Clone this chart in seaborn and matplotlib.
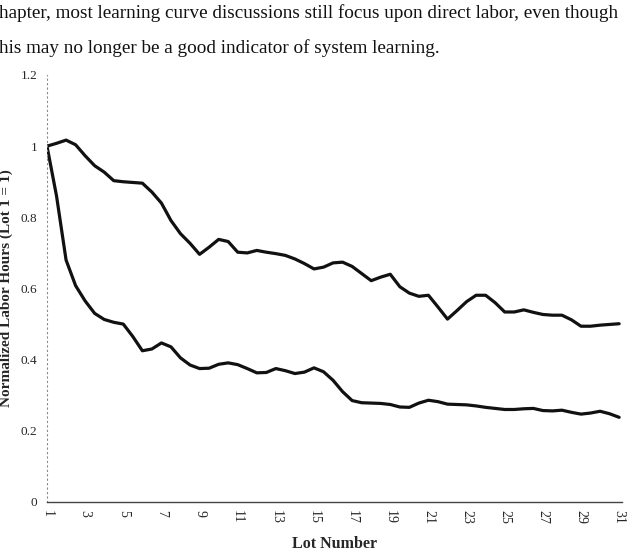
import matplotlib
matplotlib.use("Agg")
import matplotlib.pyplot as plt
from matplotlib.ticker import FuncFormatter, FixedLocator, MultipleLocator
import numpy as np
import pandas as pd
import seaborn as sns

# -------- Data (half-lot resolution) --------
lots = [1, 1.5, 2, 2.5, 3, 3.5, 4, 4.5, 5, 5.5, 6, 6.5, 7, 7.5, 8, 8.5, 9, 9.5,
        10, 10.5, 11, 11.5, 12, 12.5, 13, 13.5, 14, 14.5, 15, 15.5, 16, 16.5,
        17, 17.5, 18, 18.5, 19, 19.5, 20, 20.5, 21, 21.5, 22, 22.5, 23, 23.5,
        24, 24.5, 25, 25.5, 26, 26.5, 27, 27.5, 28, 28.5, 29, 29.5, 30, 30.5, 31]

upper = [1.000, 1.008, 1.017, 1.004, 0.973, 0.945, 0.927, 0.903, 0.900, 0.898,
         0.896, 0.871, 0.840, 0.791, 0.754, 0.727, 0.696, 0.716, 0.738, 0.732,
         0.702, 0.700, 0.707, 0.702, 0.698, 0.693, 0.683, 0.670, 0.655, 0.660,
         0.672, 0.674, 0.662, 0.642, 0.622, 0.632, 0.640, 0.605, 0.587, 0.578,
         0.581, 0.548, 0.514, 0.538, 0.563, 0.581, 0.581, 0.560, 0.534, 0.534,
         0.540, 0.533, 0.527, 0.525, 0.525, 0.512, 0.494, 0.494, 0.497, 0.499,
         0.501]

lower = [1.000, 0.860, 0.680, 0.608, 0.565, 0.530, 0.513, 0.505, 0.500, 0.465,
         0.425, 0.430, 0.447, 0.436, 0.405, 0.385, 0.375, 0.376, 0.387, 0.391,
         0.386, 0.375, 0.363, 0.364, 0.375, 0.369, 0.361, 0.365, 0.377, 0.366,
         0.342, 0.310, 0.285, 0.279, 0.278, 0.277, 0.274, 0.267, 0.266, 0.278,
         0.286, 0.282, 0.275, 0.274, 0.273, 0.270, 0.266, 0.263, 0.260, 0.260,
         0.262, 0.263, 0.257, 0.256, 0.258, 0.252, 0.247, 0.250, 0.255, 0.248,
         0.238]

series_names = ["upper", "lower"]
labelled_lots = list(range(1, 32, 2))

intro_line1 = "hapter, most learning curve discussions still focus upon direct labor, even though"
intro_line2 = "his may no longer be a good indicator of system learning."

df = pd.concat([
    pd.DataFrame({"lot": lots, "hours": upper, "series": series_names[0]}),
    pd.DataFrame({"lot": lots, "hours": lower, "series": series_names[1]}),
], ignore_index=True)

sns.set_style("white")
plt.rcParams["font.family"] = ["Liberation Serif", "DejaVu Serif"]

fig = plt.figure(figsize=(6.34, 5.58), dpi=100)
ax = fig.add_axes([47 / 634, 1 - 502 / 558, 575 / 634, 427 / 558])

sns.lineplot(data=df, x="lot", y="hours", hue="series",
             palette={"upper": "#111111", "lower": "#111111"},
             estimator=None, sort=False, linewidth=2.3, legend=False, ax=ax)

ax.set_xlim(1, 31.15)
ax.set_ylim(0, 1.2)
ax.xaxis.set_major_locator(FixedLocator(labelled_lots))
ax.xaxis.set_minor_locator(MultipleLocator(1))
ax.yaxis.set_major_locator(MultipleLocator(0.2))
ax.yaxis.set_major_formatter(FuncFormatter(lambda v, p: f"{v:g}"))
ax.xaxis.set_major_formatter(FuncFormatter(lambda v, p: f"{int(round(v))}"))

ax.tick_params(axis="x", which="both", direction="inout", length=5, width=0.8,
               color="#555555", labelsize=10, labelrotation=-90, pad=3)
ax.tick_params(axis="y", which="major", direction="inout", length=6, width=0.8,
               color="#555555", labelsize=9.5, pad=4)
ax.tick_params(axis="x", which="minor", length=4)

for s in ("top", "right"):
    ax.spines[s].set_visible(False)
ax.spines["left"].set_linestyle((0, (1, 3)))
ax.spines["left"].set_color("#888888")
ax.spines["left"].set_linewidth(0.8)
ax.spines["bottom"].set_color("#444444")
ax.spines["bottom"].set_linewidth(1.0)

ax.set_xlabel("Lot Number", fontsize=11.5, fontweight="bold")
ax.xaxis.set_label_coords(0.5, -(536 - 502) / 427)
ax.set_ylabel("Normalized Labor Hours (Lot 1 = 1)", fontsize=11,
              fontweight="bold")
ax.yaxis.set_label_coords(-(47 - 13) / 575, 0.5)

fig.text(-0.002, 1 - 18 / 558, intro_line1, fontsize=13.8, ha="left",
         va="baseline", color="#111111")
fig.text(-0.002, 1 - 53 / 558, intro_line2, fontsize=13.8, ha="left",
         va="baseline", color="#111111")

fig.savefig("out.png", dpi=100)
